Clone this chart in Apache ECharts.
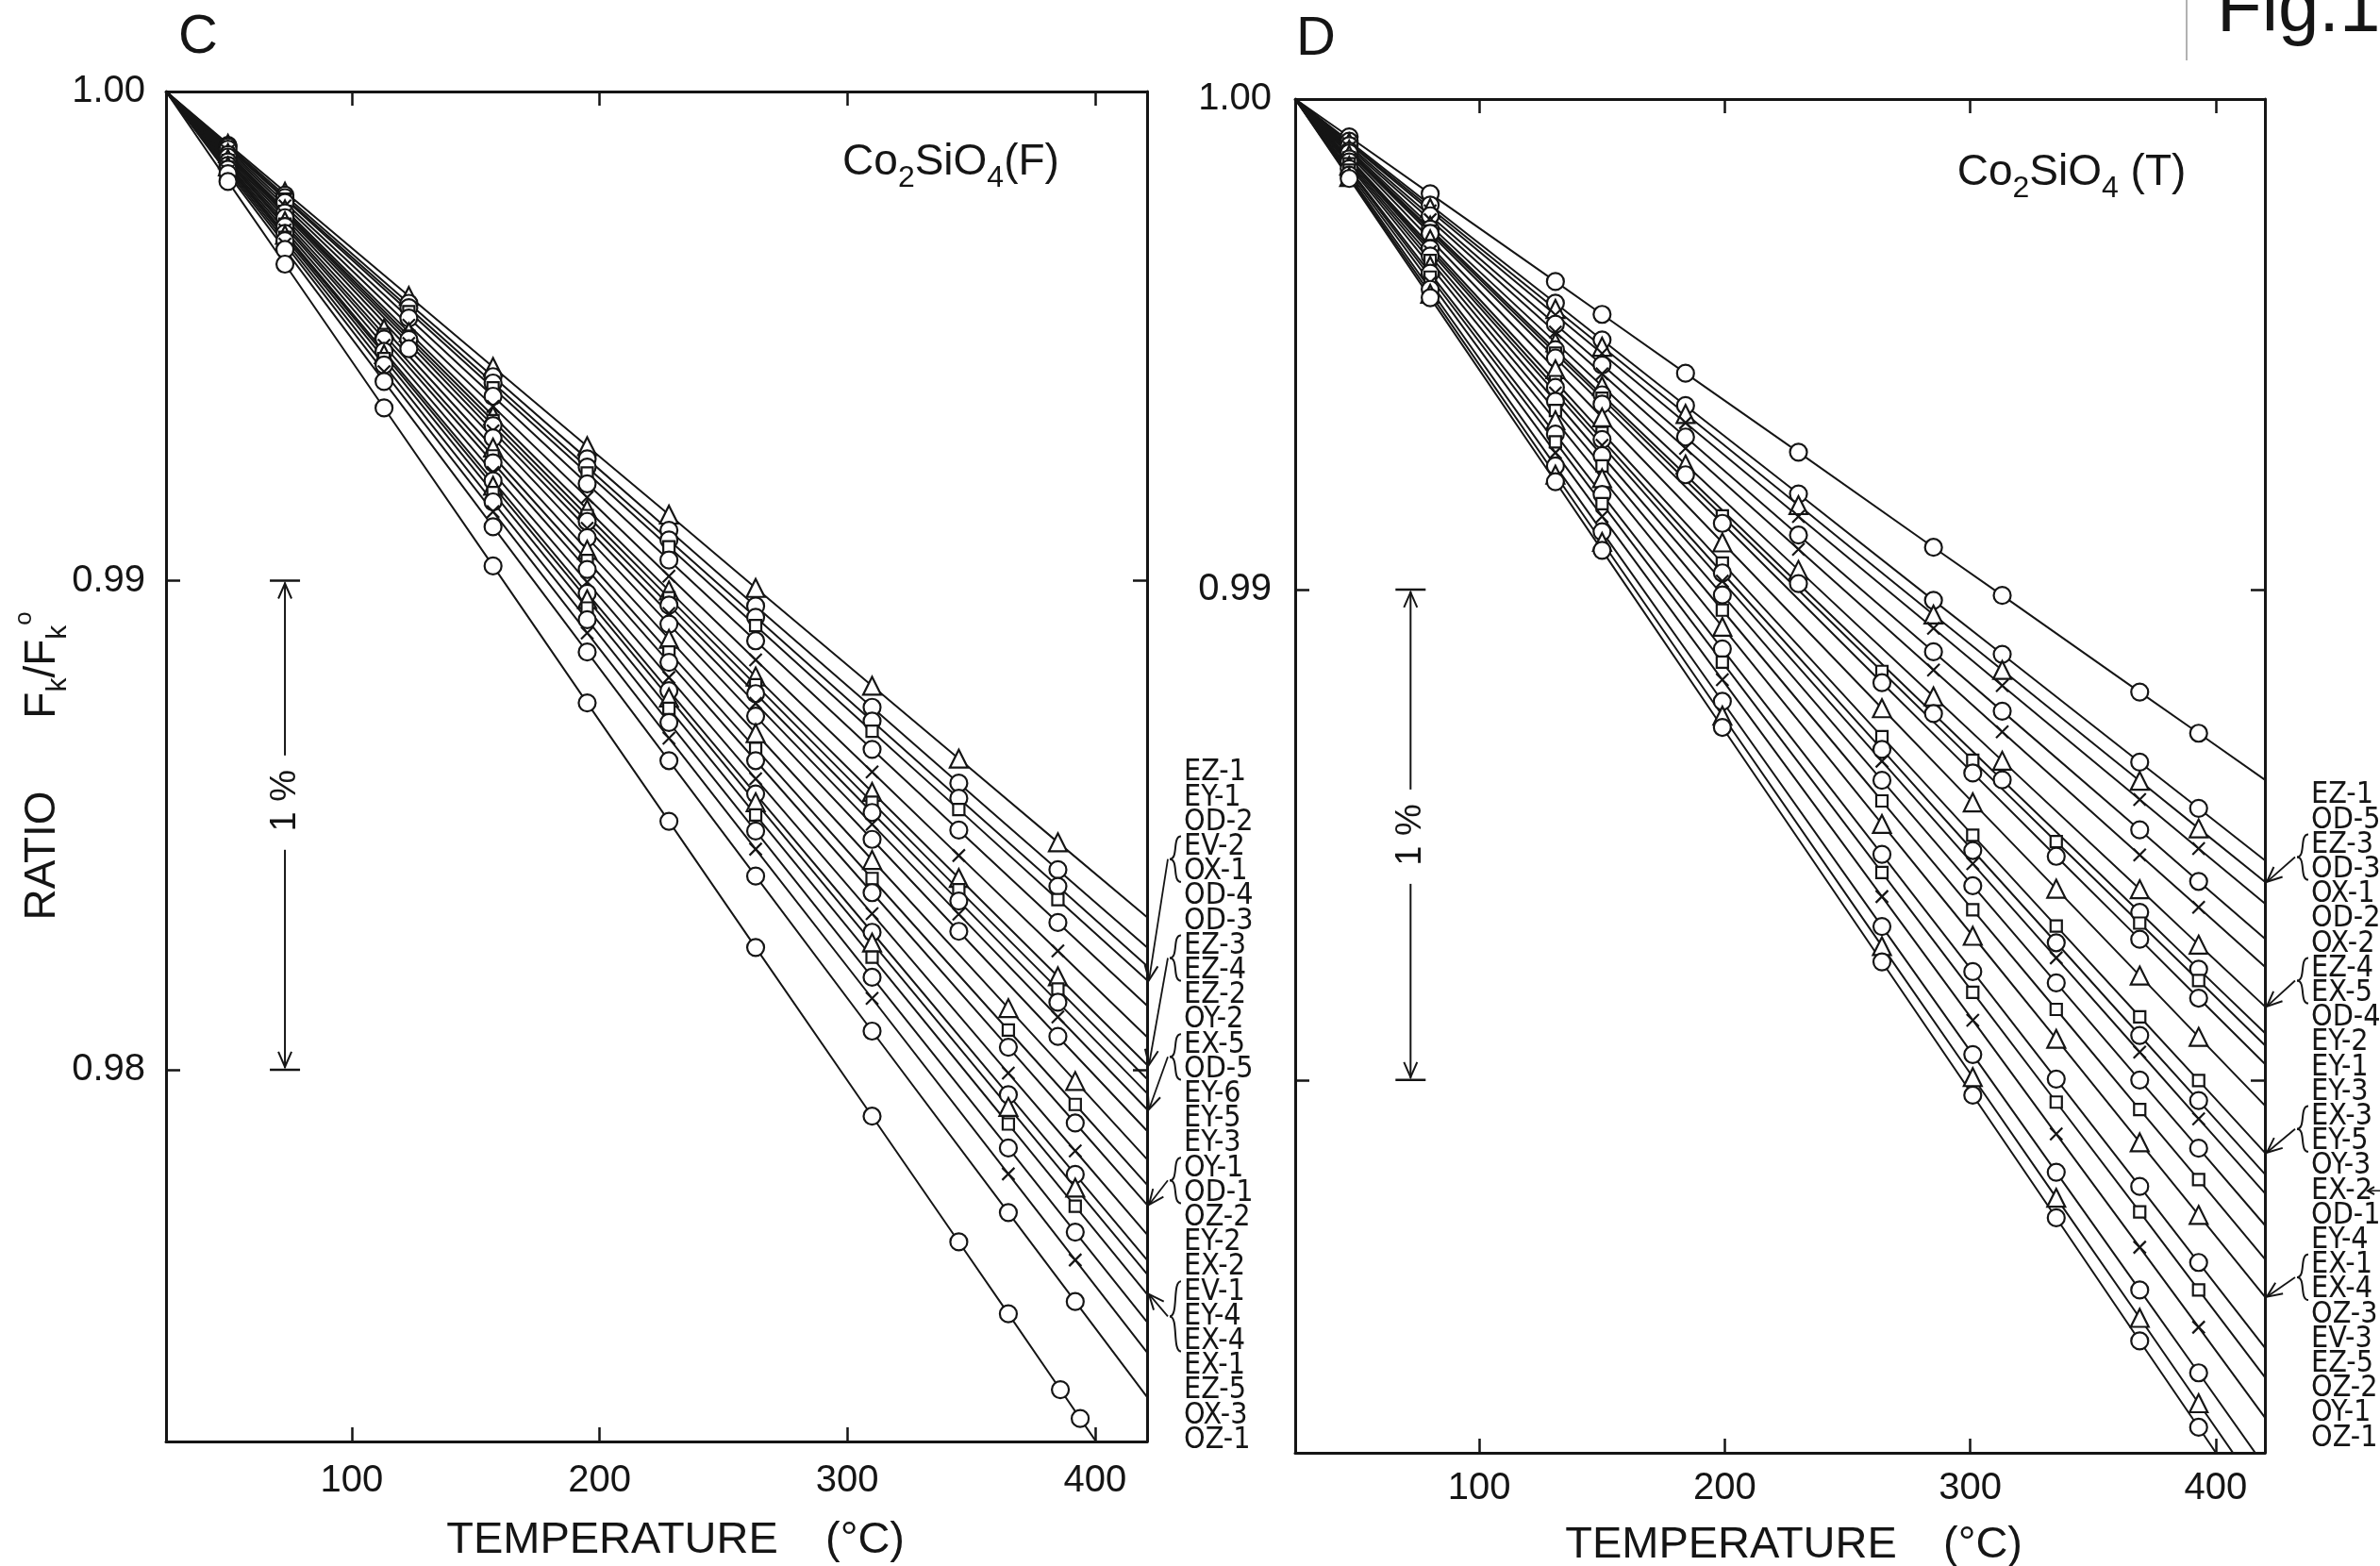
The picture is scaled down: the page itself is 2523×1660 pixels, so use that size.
<!DOCTYPE html>
<html><head><meta charset="utf-8">
<script src="https://cdn.jsdelivr.net/npm/echarts@6/dist/echarts.min.js"></script>
<style>html,body{margin:0;padding:0;background:#fff}#c{width:2523px;height:1660px}</style>
</head><body><div id="c"></div>
<script>
// ---------------- DATA ----------------
const xTickValues = [100, 200, 300, 400];
const yTickValues = [0.98, 0.99];
const leftYLabelValues = [0.98, 0.99, 1.00];
const rightYLabelValues = [0.99, 1.00];
const Y_MIN = 0.9724, Y_MAX = 1.0;
const T_START = 25, START_VALUE = 1.0;
const leftTMax = 421, rightTMax = 420;

// Panel C : Co2SiO4 (F)
const leftLineNames = ['EZ-1','EY-1','OD-2','EV-2,OX-1','OD-4','OD-3','EZ-3,EZ-4','EZ-2','OY-2','EX-5,OD-5','EY-6','EY-5','EY-3','OY-1,OD-1','OZ-2','EY-2','EX-2','EV-1,EY-4,EX-4','EX-1','EZ-5','OX-3','OZ-1'];
const leftEndValues = [0.98312,0.98250,0.98212,0.98183,0.98131,0.98067,0.98010,0.97981,0.97952,0.97919,0.97875,0.97817,0.97765,0.97724,0.97663,0.97611,0.97582,0.97541,0.97484,0.97422,0.97331,0.97089];
const leftPoints = [
 [[50,.99893],[73,.99795],[123,.99582],[157,.99437],[195,.99275],[228,.99135],[263,.98985],[310,.98785],[345,.98636],[385,.98465]],
 [[50,.99890],[73,.99788],[123,.99567],[157,.99417],[195,.99249],[228,.99103],[263,.98948],[310,.98741],[345,.98586],[385,.98409]],
 [[50,.99887],[73,.99783],[123,.99558],[157,.99404],[195,.99232],[228,.99083],[263,.98925],[310,.98713],[345,.98555],[385,.98375]],
 [[50,.99885],[73,.99780],[123,.99550],[157,.99394],[195,.99220],[228,.99069],[263,.98908],[310,.98692],[345,.98532],[385,.98348]],
 [[50,.99882],[73,.99773],[123,.99537],[157,.99377],[195,.99198],[228,.99042],[263,.98877],[310,.98655],[345,.98490],[385,.98301]],
 [[50,.99878],[73,.99766],[123,.99522],[157,.99356],[195,.99170],[228,.99009],[263,.98838],[310,.98609],[345,.98438],[385,.98243]],
 [[50,.99874],[73,.99759],[123,.99508],[157,.99337],[195,.99146],[228,.98980],[263,.98804],[310,.98568],[345,.98392],[385,.98191]],
 [[50,.99873],[73,.99755],[123,.99500],[157,.99327],[195,.99133],[228,.98965],[263,.98787],[310,.98547],[345,.98368],[385,.98165]],
 [[50,.99871],[73,.99752],[123,.99493],[157,.99317],[195,.99121],[228,.98950],[263,.98769],[310,.98526],[345,.98345],[385,.98138]],
 [[50,.99869],[73,.99748],[123,.99485],[157,.99306],[195,.99107],[228,.98933],[263,.98749],[310,.98502],[345,.98318],[385,.98108]],
 [[50,.99866],[73,.99742],[123,.99474],[157,.99292],[195,.99088],[228,.98911],[263,.98723],[310,.98471],[345,.98283],[385,.98068]],
 [[50,.99862],[73,.99735],[113,.99515],[157,.99272],[195,.99063],[228,.98881],[263,.98688],[310,.98429],[365,.98126],[392,.97977]],
 [[50,.99859],[73,.99729],[113,.99503],[157,.99255],[195,.99041],[228,.98854],[263,.98657],[310,.98391],[365,.98081],[392,.97929]],
 [[50,.99856],[73,.99724],[113,.99494],[157,.99241],[195,.99023],[228,.98833],[263,.98632],[310,.98362],[365,.98046],[392,.97891]],
 [[50,.99852],[73,.99717],[113,.99481],[157,.99221],[195,.98997],[228,.98802],[263,.98595],[310,.98319],[365,.97993],[392,.97834]],
 [[50,.99849],[73,.99710],[113,.99469],[157,.99204],[195,.98974],[228,.98775],[263,.98564],[310,.98281],[365,.97949],[392,.97786]],
 [[50,.99847],[73,.99707],[113,.99463],[157,.99194],[195,.98962],[228,.98761],[263,.98547],[310,.98260],[365,.97924],[392,.97759]],
 [[50,.99845],[73,.99702],[113,.99454],[157,.99180],[195,.98944],[228,.98739],[263,.98521],[310,.98230],[365,.97889],[392,.97721]],
 [[50,.99841],[73,.99695],[113,.99441],[157,.99161],[195,.98920],[228,.98710],[263,.98488],[310,.98189],[365,.97840],[392,.97668]],
 [[50,.99837],[73,.99688],[113,.99427],[157,.99141],[195,.98893],[228,.98678],[263,.98451],[310,.98146],[365,.97787],[392,.97611]],
 [[50,.99832],[73,.99677],[113,.99407],[157,.99110],[195,.98854],[228,.98632],[263,.98396],[310,.98079],[365,.97708],[392,.97526]],
 [[50,.99816],[73,.99647],[113,.99353],[157,.99030],[195,.98750],[228,.98508],[263,.98250],[310,.97905],[345,.97648],[365,.97501],[386,.97346],[394,.97287]]
];
const leftLabels = ['EZ-1','EY-1','OD-2','EV-2','OX-1','OD-4','OD-3','EZ-3','EZ-4','EZ-2','OY-2','EX-5','OD-5','EY-6','EY-5','EY-3','OY-1','OD-1','OZ-2','EY-2','EX-2','EV-1','EY-4','EX-4','EX-1','EZ-5','OX-3','OZ-1'];
const leftGroups = [[3,4,3],[7,8,6],[11,12,9],[16,17,13],[21,23,17]]; // [firstLabel,lastLabel,lineIndex]

// Panel D : Co2SiO4 (T)
const rightLineNames = ['EZ-1','OD-5','EZ-3,OD-3','OX-1','OD-2','OX-2','EZ-4,EX-5','OD-4','EY-2','EY-1','EY-3','EX-3,EY-5','OY-3','EX-2','OD-1','EY-4','EX-1,EX-4','OZ-3','EV-3','EZ-5','OZ-2','OY-1','OZ-1'];
const rightEndValues = [0.98612,0.98448,0.98404,0.98360,0.98288,0.98231,0.98150,0.98096,0.98071,0.98033,0.97948,0.97852,0.97808,0.97769,0.97704,0.97635,0.97558,0.97454,0.97394,0.97312,0.97212,0.97146,0.97093];
const rightPoints = [
 [[47,.99923],[80,.99807],[131,.99628],[150,.99561],[184,.99441],[230,.99280],[285,.99086],[313,.98988],[369,.98791],[393,.98707]],
 [[47,.99914],[80,.99784],[131,.99584],[150,.99509],[184,.99375],[230,.99195],[285,.98978],[313,.98868],[369,.98648],[393,.98554]],
 [[47,.99911],[80,.99778],[131,.99572],[150,.99495],[184,.99358],[230,.99172],[285,.98949],[313,.98836],[369,.98610],[393,.98513]],
 [[47,.99909],[80,.99772],[131,.99560],[150,.99481],[184,.99340],[230,.99149],[285,.98921],[313,.98804],[369,.98572],[393,.98472]],
 [[47,.99905],[80,.99762],[131,.99541],[150,.99458],[184,.99311],[230,.99111],[285,.98873],[313,.98752],[369,.98510],[393,.98405]],
 [[47,.99901],[80,.99754],[131,.99525],[150,.99440],[184,.99288],[230,.99082],[285,.98836],[313,.98710],[369,.98459],[393,.98352]],
 [[47,.99897],[80,.99742],[131,.99504],[150,.99415],[184,.99255],[230,.99040],[285,.98782],[313,.98651],[369,.98389],[393,.98276]],
 [[47,.99894],[80,.99735],[131,.99489],[150,.99397],[184,.99234],[230,.99012],[285,.98747],[313,.98612],[369,.98342],[393,.98226]],
 [[47,.99893],[80,.99731],[131,.99482],[150,.99390],[199,.99150],[264,.98833],[301,.98652],[335,.98486],[369,.98320],[393,.98203]],
 [[47,.99890],[80,.99726],[131,.99472],[150,.99378],[199,.99135],[264,.98810],[301,.98626],[335,.98456],[369,.98287],[393,.98167]],
 [[47,.99886],[80,.99714],[131,.99449],[150,.99351],[199,.99096],[264,.98758],[301,.98566],[335,.98390],[369,.98213],[393,.98088]],
 [[47,.99880],[80,.99701],[131,.99424],[150,.99320],[199,.99054],[264,.98700],[301,.98499],[335,.98314],[369,.98129],[393,.97999]],
 [[47,.99878],[80,.99695],[131,.99412],[150,.99306],[199,.99034],[264,.98674],[301,.98468],[335,.98280],[369,.98091],[393,.97958]],
 [[47,.99876],[80,.99689],[131,.99401],[150,.99294],[199,.99017],[264,.98650],[301,.98441],[335,.98249],[369,.98057],[393,.97921]],
 [[47,.99872],[80,.99680],[131,.99384],[150,.99273],[199,.98989],[264,.98611],[301,.98396],[335,.98198],[369,.98000],[393,.97861]],
 [[47,.99868],[80,.99671],[131,.99365],[150,.99252],[199,.98958],[264,.98569],[301,.98347],[335,.98144],[369,.97940],[393,.97797]],
 [[47,.99864],[80,.99660],[131,.99345],[150,.99227],[199,.98924],[264,.98522],[301,.98294],[335,.98084],[369,.97873],[393,.97725]],
 [[47,.99858],[80,.99645],[131,.99317],[150,.99194],[199,.98879],[264,.98460],[301,.98221],[335,.98002],[369,.97783],[393,.97628]],
 [[47,.99855],[80,.99637],[131,.99301],[150,.99175],[199,.98852],[264,.98423],[301,.98179],[335,.97955],[369,.97731],[393,.97572]],
 [[47,.99850],[80,.99626],[131,.99279],[150,.99149],[199,.98816],[264,.98374],[301,.98122],[335,.97890],[369,.97659],[393,.97496]],
 [[47,.99845],[80,.99612],[131,.99252],[150,.99118],[199,.98772],[264,.98313],[301,.98052],[335,.97812],[369,.97572],[393,.97403]],
 [[47,.99841],[80,.99603],[131,.99234],[150,.99097],[199,.98743],[264,.98273],[301,.98006],[335,.97760],[369,.97515],[393,.97341]],
 [[47,.99838],[80,.99595],[131,.99220],[150,.99080],[199,.98719],[264,.98241],[301,.97969],[335,.97719],[369,.97468],[393,.97292]]
];
const rightLabels = ['EZ-1','OD-5','EZ-3','OD-3','OX-1','OD-2','OX-2','EZ-4','EX-5','OD-4','EY-2','EY-1','EY-3','EX-3','EY-5','OY-3','EX-2','OD-1','EY-4','EX-1','EX-4','OZ-3','EV-3','EZ-5','OZ-2','OY-1','OZ-1'];
const rightGroups = [[2,3,2],[7,8,6],[13,14,11],[19,20,16]];

// ---------------- STYLES ----------------
const INK = '#151515';
const FONT = "'Liberation Sans', Arial, sans-serif";
const NARROW = "'Liberation Sans Narrow', 'DejaVu Sans Condensed', 'Liberation Sans', sans-serif";
const CROSS = 'path://M0,0L20,20M20,0L0,20';
const leftSymbols = ['triangle','circle','circle','rect','circle',CROSS,'triangle','rect','circle',CROSS,'circle','triangle','rect','circle',CROSS,'circle','triangle','rect','circle',CROSS,'circle','circle'];
const rightSymbols = ['circle','circle','triangle',CROSS,'circle',CROSS,'triangle','circle','rect','circle','triangle','rect','circle',CROSS,'circle','rect','triangle','circle','rect',CROSS,'circle','triangle','circle'];
const symSize = s => s === 'circle' ? 18 : s === 'triangle' ? 19 : s === 'rect' ? 12 : 13;

const gridL = {left:176, top:97, width:1040, height:1431};
const gridR = {left:1373, top:105, width:1028, height:1435};

function axes(gi, xmax, mx, my, yLabels) {
  const line = {show:true, onZero:false, lineStyle:{color:INK, width:3}};
  const tick = vals => ({show:true, inside:true, length:15, lineStyle:{color:INK, width:2.5}, customValues: vals});
  const lbl = {fontSize:40, fontFamily:FONT, color:INK};
  return {
    x: [
      {type:'value', gridIndex:gi, position:'bottom', min:T_START, max:xmax, axisLine:line, axisTick:tick(xTickValues),
       axisLabel:Object.assign({show:true, customValues:xTickValues, margin:mx}, lbl), splitLine:{show:false}},
      {type:'value', gridIndex:gi, position:'top', min:T_START, max:xmax, axisLine:line, axisTick:tick(xTickValues),
       axisLabel:{show:false}, splitLine:{show:false}}
    ],
    y: [
      {type:'value', gridIndex:gi, position:'left', min:Y_MIN, max:Y_MAX, axisLine:line, axisTick:tick(yTickValues),
       axisLabel:Object.assign({show:true, customValues:yLabels, margin:my, formatter: v => v.toFixed(2)}, lbl), splitLine:{show:false}},
      {type:'value', gridIndex:gi, position:'right', min:Y_MIN, max:Y_MAX, axisLine:line, axisTick:tick(yTickValues),
       axisLabel:{show:false}, splitLine:{show:false}}
    ]
  };
}
const aL = axes(0, leftTMax, 22, 22, leftYLabelValues), aR = axes(1, rightTMax, 18, 25, rightYLabelValues);

function makeSeries(names, ends, pts, syms, xAxisIndex, yAxisIndex, tmax) {
  return names.map((n, i) => ({
    type:'line', name:n, xAxisIndex, yAxisIndex, silent:true, animation:false,
    showSymbol:true, showAllSymbol:true, clip:true,
    symbol: syms[i], symbolSize: symSize(syms[i]),
    lineStyle:{color:INK, width:2},
    itemStyle:{color:'#fff', borderColor:INK, borderWidth:2.2},
    emphasis:{disabled:true},
    data: [{value:[T_START, START_VALUE], symbol:'none'}].concat(pts[i], [{value:[tmax, ends[i]], symbol:'none'}])
  }));
}

const chart = echarts.init(document.getElementById('c'), null, {width:2523, height:1660});
const seriesL = makeSeries(leftLineNames, leftEndValues, leftPoints, leftSymbols, 0, 0, leftTMax);
const seriesR = makeSeries(rightLineNames, rightEndValues, rightPoints, rightSymbols, 2, 2, rightTMax);
chart.setOption({
  animation:false, backgroundColor:'#fff',
  grid:[gridL, gridR].map(g => Object.assign({containLabel:false}, g)),
  xAxis: aL.x.concat(aR.x),
  yAxis: aL.y.concat(aR.y),
  series: seriesL.concat(seriesR)
});

// ---------------- ANNOTATIONS ----------------
const G = [];
const STEP = 26.2;
function text(x, y, t, o) {
  G.push({type:'text', x, y, rotation:(o && o.rot) || 0, silent:true,
    style:Object.assign({text:t, fill:INK, font:'36px ' + FONT, align:'center', verticalAlign:'middle'}, (o && o.style) || {})});
}
function seg(x1, y1, x2, y2, w) {
  G.push({type:'line', silent:true, shape:{x1, y1, x2, y2}, style:{stroke:INK, lineWidth:w || 2}});
}
function arrowHead(sx, sy, tx, ty, L, W) {
  const dx = tx - sx, dy = ty - sy, len = Math.hypot(dx, dy), ux = dx / len, uy = dy / len;
  G.push({type:'polyline', silent:true, shape:{points:[[tx - ux*L - uy*W, ty - uy*L + ux*W],[tx, ty],[tx - ux*L + uy*W, ty - uy*L - ux*W]]},
    style:{stroke:INK, lineWidth:2, fill:null}});
}
function brace(x, y1, y2) {
  const w = 12, ym = (y1 + y2) / 2;
  G.push({type:'bezierCurve', silent:true, shape:{x1:x+w, y1:y1, cpx1:x+w*0.2, cpy1:y1, cpx2:x+w*0.8, cpy2:ym, x2:x, y2:ym}, style:{stroke:INK, lineWidth:2, fill:null}});
  G.push({type:'bezierCurve', silent:true, shape:{x1:x, y1:ym, cpx1:x+w*0.8, cpy1:ym, cpx2:x+w*0.2, cpy2:y2, x2:x+w, y2:y2}, style:{stroke:INK, lineWidth:2, fill:null}});
}
function labelColumn(labels, groups, x0, y0, sIdx, tmax, ends) {
  labels.forEach((t, i) => text(x0, y0 + i*STEP, t, {style:{align:'left', font:'32px ' + NARROW}}));
  groups.forEach(([a, b, li]) => {
    const y1 = y0 + a*STEP - 11, y2 = y0 + b*STEP + 11, ym = (y1 + y2) / 2;
    const bx = x0 - 15;
    brace(bx, y1, y2);
    const tip = chart.convertToPixel({seriesIndex:sIdx}, [tmax, Math.max(ends[li], Y_MIN)]);
    seg(bx - 2, ym, tip[0] + 2, tip[1], 1.8);
    arrowHead(bx - 2, ym, tip[0] + 2, tip[1], 16, 7);
  });
}
labelColumn(leftLabels, leftGroups, 1255, 819, 0, leftTMax, leftEndValues);
labelColumn(rightLabels, rightGroups, 2450, 843, seriesL.length, rightTMax, rightEndValues);
// little arrow after EX-2 (panel D)
{ const y = 843 + 16*STEP; seg(2512, y, 2523, y, 1.5); arrowHead(2523, y, 2510, y, 7, 4); }

function scaleBar(sIdx, T, frac) {
  const p1 = chart.convertToPixel({seriesIndex:sIdx}, [T, 0.99]);
  const p2 = chart.convertToPixel({seriesIndex:sIdx}, [T, 0.98]);
  const x = p1[0], y1 = p1[1], y2 = p2[1], ym = y1 + (y2 - y1) * frac;
  seg(x - 16, y1, x + 16, y1, 2.5);
  seg(x - 16, y2, x + 16, y2, 2.5);
  seg(x, y1 + 2, x, ym - 48, 2);
  seg(x, ym + 52, x, y2 - 2, 2);
  arrowHead(x, y1 + 40, x, y1 + 3, 16, 7);
  arrowHead(x, y2 - 40, x, y2 - 3, 16, 7);
  text(x, ym, '1 %', {rot:Math.PI/2, style:{font:'38px ' + FONT}});
}
scaleBar(0, 73, 0.45);
scaleBar(seriesL.length, 72, 0.5);

// titles / names
text(210, 40, 'C', {style:{font:'58px ' + FONT}});
text(1395, 42, 'D', {style:{font:'58px ' + FONT}});
G.push({type:'text', x:2350, y:50, silent:true, style:{text:'Fig.1', fill:INK, font:'78px ' + FONT, align:'left', verticalAlign:'bottom'}});
G.push({type:'line', silent:true, shape:{x1:2318, y1:0, x2:2318, y2:64}, style:{stroke:'#999', lineWidth:1.5}});
function formula(x, y, last) {
  G.push({type:'text', x, y, silent:true, style:{
    text:'Co{s|2}SiO{s|4}' + last, fill:INK, font:'46px ' + FONT, align:'center', verticalAlign:'middle',
    rich:{s:{font:'32px ' + FONT, fill:INK, verticalAlign:'bottom', lineHeight:66}}}});
}
formula(1008, 172, '(F)');
formula(2196, 183, ' (T)');
text(649, 1633, 'TEMPERATURE', {style:{font:'47px ' + FONT}});
text(917, 1633, '(°C)', {style:{font:'47px ' + FONT}});
text(1835, 1638, 'TEMPERATURE', {style:{font:'47px ' + FONT}});
text(2102, 1638, '(°C)', {style:{font:'47px ' + FONT}});
// y axis name (left panel)
text(45, 907, 'RATIO', {rot:Math.PI/2, style:{font:'46px ' + FONT}});
G.push({type:'text', x:45, y:705, rotation:Math.PI/2, silent:true, style:{
  text:'F{s|k}/F{s|k}{o|o}', fill:INK, font:'46px ' + FONT, align:'center', verticalAlign:'middle',
  rich:{s:{font:'30px ' + FONT, fill:INK, verticalAlign:'bottom', lineHeight:64}, o:{font:'26px ' + FONT, fill:INK, verticalAlign:'top', lineHeight:64}}}});

chart.setOption({graphic: G});
</script></body></html>
